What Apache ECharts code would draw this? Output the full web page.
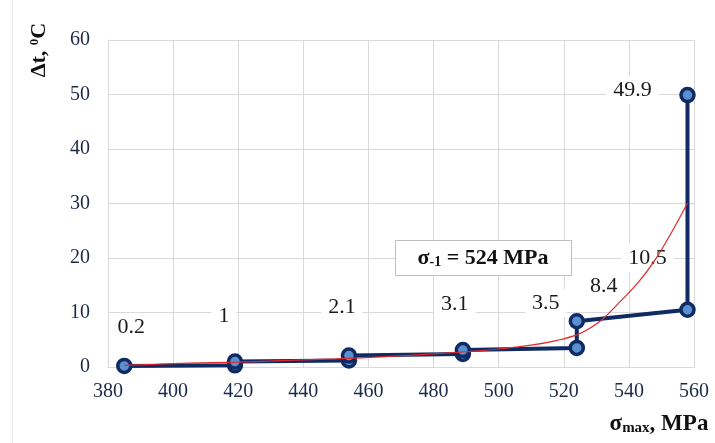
<!DOCTYPE html>
<html><head><meta charset="utf-8">
<script src="https://cdn.jsdelivr.net/npm/echarts@6/dist/echarts.min.js"></script>
<style>html,body{margin:0;padding:0;background:#fff}#c{width:715px;height:443px}</style>
</head><body><div id="c"></div>
<script>
// Stepped measured curve (σmax, Δt)
const stepX = [385, 419, 419, 454, 454, 489, 489, 524, 524, 558, 558];
const stepY = [0.2, 0.3, 1.0, 1.2, 2.1, 2.4, 3.1, 3.5, 8.4, 10.5, 49.9];
// Indices of points that carry a value label
const labeledIdx = [0, 2, 4, 6, 7, 8, 9, 10];
// Red trend curve
const fitX = [385, 395, 405, 420, 435, 450, 465, 480, 490, 500, 510, 518, 524, 528, 532, 537, 543, 548, 553, 558];
const fitY = [0.3, 0.5, 0.7, 0.9, 1.2, 1.5, 1.9, 2.4, 2.8, 3.3, 4.0, 4.9, 5.9, 7.1, 8.8, 11.8, 15.6, 19.6, 24.6, 30.1];
// Axis ranges
const xRange = [380, 560, 20];
const yRange = [0, 60, 10];
const annotationText = 'σ{sub|-1} = 524 MPa';

const SERIF = '"Liberation Serif", "Times New Roman", serif';
const labelOffsets = {0:[7,-39], 2:[-11,-45], 4:[-7,-48], 6:[-8,-46], 7:[-31,-45], 8:[27,-35], 9:[-40,-52], 10:[-55,-5]};

const stepData = stepX.map((x, i) => {
  const item = { value: [x, stepY[i]] };
  if (labeledIdx.includes(i)) {
    item.label = {
      show: true, position: 'inside', align: 'center', verticalAlign: 'middle',
      offset: labelOffsets[i],
      formatter: String(stepY[i]),
      fontFamily: SERIF, fontSize: 22, color: '#1a1a1a',
      backgroundColor: '#fff', padding: [3, 7]
    };
  }
  return item;
});
const fitData = fitX.map((x, i) => [x, fitY[i]]);

const chart = echarts.init(document.getElementById('c'), null, { renderer: 'canvas' });
chart.setOption({
  animation: false,
  backgroundColor: '#fff',
  grid: { left: 108, right: 21, top: 40, bottom: 76 },
  xAxis: {
    type: 'value', min: xRange[0], max: xRange[1], interval: xRange[2],
    axisLine: { show: true, lineStyle: { color: '#d9d9d9', width: 1 } },
    axisTick: { show: false },
    splitLine: { show: true, lineStyle: { color: '#d9d9d9', width: 1 } },
    axisLabel: { fontFamily: SERIF, fontSize: 20, color: '#1c2a48', margin: 15 }
  },
  yAxis: {
    type: 'value', min: yRange[0], max: yRange[1], interval: yRange[2],
    axisLine: { show: true, lineStyle: { color: '#d9d9d9', width: 1 } },
    axisTick: { show: false },
    splitLine: { show: true, lineStyle: { color: '#d9d9d9', width: 1 } },
    axisLabel: { fontFamily: SERIF, fontSize: 20, color: '#1c2a48', margin: 18 }
  },
  series: [
    {
      type: 'line', z: 2, data: stepData,
      lineStyle: { color: '#0f2b63', width: 4 },
      symbol: 'circle', symbolSize: 13,
      itemStyle: { color: '#5a8fd0', borderColor: '#0f2b63', borderWidth: 3.5 },
      label: { show: false }
    },
    {
      type: 'line', z: 6, data: fitData, smooth: 0.4, showSymbol: false,
      lineStyle: { color: '#e02828', width: 1.2 }
    }
  ],
  graphic: [
    { type: 'line', shape: { x1: 12.5, y1: 0, x2: 12.5, y2: 443 }, style: { stroke: '#e6e6e6', lineWidth: 1 } },
    {
      type: 'text', x: 39, y: 50, rotation: Math.PI / 2,
      style: {
        text: 'Δt, {sup|0}C', align: 'center', verticalAlign: 'middle',
        font: 'bold 22px ' + SERIF, fill: '#111',
        rich: { sup: { fontSize: 13, fontWeight: 'bold', fontFamily: SERIF, verticalAlign: 'top', fill: '#111' } }
      }
    },
    {
      type: 'text', x: 659, y: 424,
      style: {
        text: 'σ{sub|max}, MPa', align: 'center', verticalAlign: 'middle',
        font: 'bold 23px ' + SERIF, fill: '#111',
        rich: { sub: { fontSize: 15, fontWeight: 'bold', fontFamily: SERIF, verticalAlign: 'bottom', fill: '#111' } }
      }
    },
    { type: 'rect', z: 10, shape: { x: 395.5, y: 240.5, width: 176, height: 35 }, style: { fill: '#fff', stroke: '#bfbfbf', lineWidth: 1 } },
    {
      type: 'text', z: 11, x: 483, y: 258,
      style: {
        text: annotationText, align: 'center', verticalAlign: 'middle',
        font: 'bold 22px ' + SERIF, fill: '#111',
        rich: { sub: { fontSize: 14, fontWeight: 'bold', fontFamily: SERIF, verticalAlign: 'bottom', fill: '#111' } }
      }
    }
  ]
});
</script>
</body></html>
